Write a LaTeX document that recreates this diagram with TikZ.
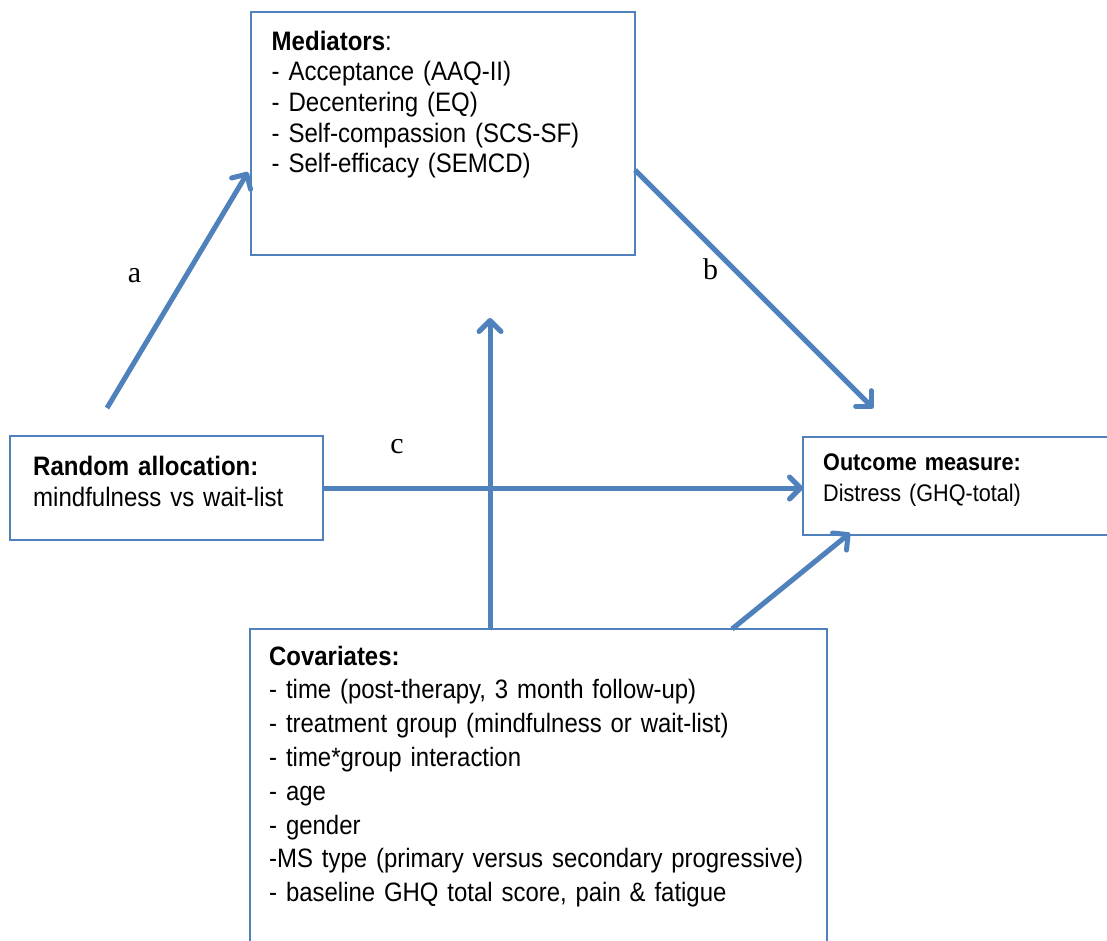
\documentclass[tikz,border=0pt]{standalone}
\usepackage{fontspec}
\setmainfont{Liberation Sans}
\newfontfamily\boxfont[FakeStretch=0.9, WordSpace=0.9]{Liberation Sans}
\newfontfamily\labelfont{Liberation Serif}
\usetikzlibrary{arrows.meta}
\definecolor{wordblue}{RGB}{79,129,189}
\begin{document}
\begin{tikzpicture}[x=1pt,y=-1pt,
  box/.style={draw=wordblue, line width=1.5pt, inner sep=0pt, outer sep=0pt, anchor=north west},
  txt/.style={inner sep=0pt, align=left, anchor=base west},
  medfont/.style={font={\boxfont\fontsize{26.7pt}{30.7pt}\selectfont}},
  randfont/.style={font={\boxfont\fontsize{26.7pt}{31pt}\selectfont}},
  covfont/.style={font={\boxfont\fontsize{26.6pt}{33.8pt}\selectfont}},
  outfont/.style={font={\boxfont\fontsize{24pt}{31.5pt}\selectfont}},
  lab/.style={inner sep=0pt, anchor=base, font={\labelfont\fontsize{30pt}{36pt}\selectfont}},
  arr/.style={draw=wordblue, line width=5pt, -{Straight Barb[length=11pt,width=22pt,round]},
    preaction={draw=black, opacity=0.16, transform canvas={shift={(1.5pt,-2pt)}}}}]
\useasboundingbox (0,0) rectangle (1107,940);
\clip (0,0) rectangle (1107,940);
\fill[white] (0,0) rectangle (1107,940);

% boxes
\node[box, minimum width=384pt, minimum height=243pt] (med) at (251,12) {};
\node[box, minimum width=313pt, minimum height=104pt] (rand) at (10,436) {};
\node[box, minimum width=330pt, minimum height=98pt] (out) at (803,437) {};
\node[box, minimum width=577pt, minimum height=340pt] (cov) at (250,629) {};

% texts
\node[txt, medfont, text width=355pt] (medtext) at (271.5,50)
  {\textbf{Mediators}:\\- Acceptance (AAQ-II)\\- Decentering (EQ)\\- Self-compassion (SCS-SF)\\- Self-efficacy (SEMCD)};
\node[txt, randfont, text width=290pt] (randtext) at (33,475)
  {\textbf{Random allocation:}\\mindfulness vs wait-list};
\node[txt, outfont, text width=280pt] (outtext) at (823,470)
  {\textbf{Outcome measure:}\\Distress (GHQ-total)};
\node[txt, covfont, text width=550pt] (covtext) at (269,665)
  {\textbf{Covariates:}\\- time (post-therapy, 3 month follow-up)\\- treatment group (mindfulness or wait-list)\\- time*group interaction\\- age\\- gender\\-MS type (primary versus secondary progressive)\\- baseline GHQ total score, pain \& fatigue};

% labels
\node[lab] (la) at (134.5,282) {a};
\node[lab] (lb) at (710.5,279) {b};
\node[lab] (lc) at (397,453) {c};

% free ends
\coordinate (aS) at (107,408);
\coordinate (aE) at (248,172);
\coordinate (bE) at (873,408);
\coordinate (vE) at (490,318);
\coordinate (dE) at (850,533);

% connectors
\draw[arr] (aS) -- (aE);
\draw[arr] ([yshift=-36.5pt]med.east) -- (bE);
\draw[arr] (rand.east) -- (rand.east -| out.west);
\draw[arr] (vE |- cov.north) -- (vE);
\draw[arr] ([xshift=482pt]cov.north west) -- (dE);
\end{tikzpicture}
\end{document}
